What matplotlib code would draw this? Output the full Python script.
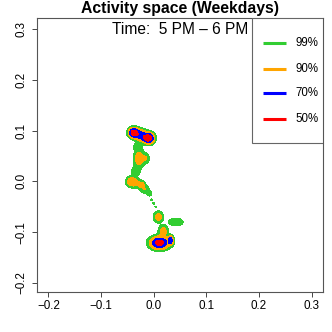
import numpy as np
import matplotlib.pyplot as plt
from matplotlib.patches import Rectangle

plt.rcParams['font.family'] = ['Liberation Sans', 'DejaVu Sans']

# activity hotspots: centre, peak intensity, spread in x / y
hot_x = [-0.038, -0.0095, -0.0285, -0.019,
         -0.030, -0.0275, -0.015, -0.034,
         -0.042, -0.023, -0.032, -0.017, -0.008,
         -0.004, 0.000, 0.004,
         0.009, 0.042, 0.018, 0.011, 0.032]
hot_y = [0.096, 0.085, 0.0923, 0.0887,
         0.068, 0.045, 0.046, 0.020,
         -0.0005, -0.0065, -0.004, -0.015, -0.024,
         -0.036, -0.043, -0.050,
         -0.070, -0.080, -0.099, -0.121, -0.116]
hot_h = [0.8, 0.8, 0.3, 0.3,
         0.065, 0.18, 0.08, 0.065,
         0.20, 0.15, 0.08, 0.08, 0.05,
         0.028, 0.028, 0.026,
         0.15, 0.065, 0.15, 0.68, 0.4]
hot_sx = [0.005, 0.0055, 0.006, 0.006,
          0.005, 0.0055, 0.004, 0.005,
          0.0055, 0.0035, 0.006, 0.005, 0.0035,
          0.0022, 0.0022, 0.0022,
          0.005, 0.009, 0.005, 0.0095, 0.003]
hot_sy = [0.005, 0.0055, 0.006, 0.006,
          0.005, 0.0095, 0.006, 0.006,
          0.0055, 0.0035, 0.006, 0.005, 0.0035,
          0.0022, 0.0022, 0.0022,
          0.006, 0.005, 0.007, 0.0065, 0.005]

# contour levels for the 99 / 90 / 70 / 50 % regions
levels = [0.02, 0.08, 0.25, 0.5]
level_labels = ["99%", "90%", "70%", "50%"]
level_colors = ["#32CD32", "#FFA500", "#0000FF", "#FF0000"]

gx = np.linspace(-0.22, 0.32, 500)
gy = np.linspace(-0.22, 0.32, 500)
X, Y = np.meshgrid(gx, gy)
Z = np.zeros_like(X)
for x, y, h, sx, sy in zip(hot_x, hot_y, hot_h, hot_sx, hot_sy):
    Z += h * np.exp(-((X - x)**2 / (2 * sx**2) + (Y - y)**2 / (2 * sy**2)))

fig = plt.figure(figsize=(3.32, 3.32), dpi=100)
ax = fig.add_axes([0.1124, 0.1214, 0.8596, 0.8235])
ax.contourf(X, Y, Z, levels=levels + [Z.max() + 1], colors=level_colors)

ax.set_xlim(-0.221, 0.321)
ax.set_ylim(-0.217, 0.321)
ticks = [-0.2, -0.1, 0.0, 0.1, 0.2, 0.3]
ax.set_xticks(ticks)
ax.set_yticks(ticks)
ax.set_xticklabels([f"{t:.1f}".replace("-", "\u2212") for t in ticks])
ax.set_yticklabels([f"{t:.1f}".replace("-", "\u2212") for t in ticks],
                   rotation=90, va='center')
ax.tick_params(direction='out', length=3.6, width=0.7, colors='#444444',
               labelcolor='black', labelsize=8.4)
ax.tick_params(axis='x', pad=2.2)
ax.tick_params(axis='y', pad=3.6)
for sp in ax.spines.values():
    sp.set_color('#555555')
    sp.set_linewidth(0.8)

fig.text(180 / 332, 1 - 13 / 332, "Activity space (Weekdays)",
         ha='center', va='baseline', fontsize=11.3, fontweight='bold')
ax.text(0.5, 0.985, "Time:  5 PM \u2013 6 PM", transform=ax.transAxes,
        ha='center', va='top', fontsize=11.2)

# legend box drawn at top right
ax.add_patch(Rectangle((0.752, 0.544), 0.248, 0.456, transform=ax.transAxes,
                       facecolor='white', edgecolor='#666666', lw=0.8,
                       zorder=3))
rows = [0.910, 0.815, 0.727, 0.632]
for yy, lab, col in zip(rows, level_labels, level_colors):
    ax.plot([0.791, 0.871], [yy, yy], color=col, lw=2.2,
            transform=ax.transAxes, zorder=4, solid_capstyle='butt')
    ax.text(0.903, yy, lab, transform=ax.transAxes, va='center',
            ha='left', fontsize=8.3, zorder=4)

fig.savefig('out.png', dpi=100)
